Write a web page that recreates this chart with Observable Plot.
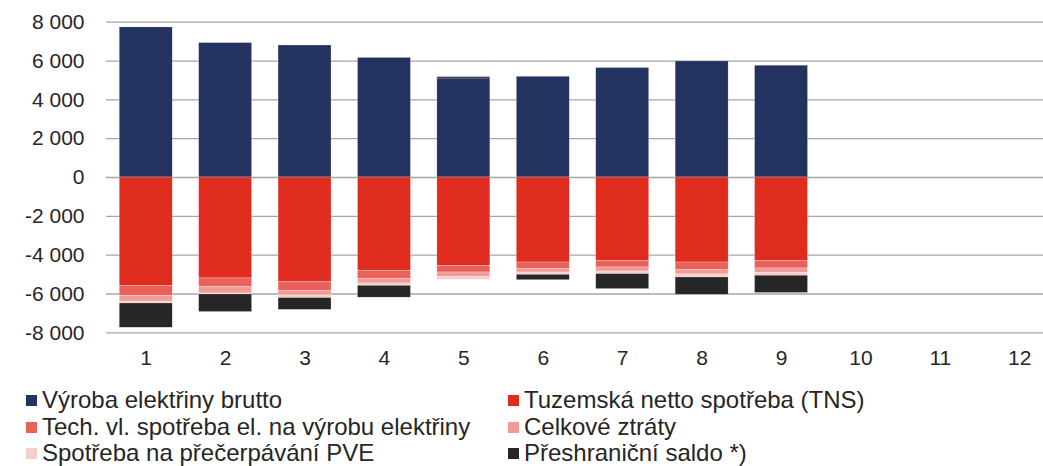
<!DOCTYPE html>
<html>
<head>
<meta charset="utf-8">
<script src="https://cdn.jsdelivr.net/npm/d3@7"></script>
<script src="https://cdn.jsdelivr.net/npm/@observablehq/plot@0.6"></script>
<style>
  html, body { margin: 0; padding: 0; background: #fff; }
  body { width: 1043px; height: 466px; position: relative; overflow: hidden; font-family: "Liberation Sans", Arial, sans-serif; }
  #chart { position: absolute; left: 0; top: 0; }
  .leg { position: absolute; font-size: 24px; color: #262626; white-space: nowrap; line-height: 24px; }
  .sw { position: absolute; width: 11px; height: 11px; }
</style>
</head>
<body>
<div id="chart"></div>
<div id="legend"></div>
<script>
// Data (GWh), months 1..12
const months = ["1","2","3","4","5","6","7","8","9","10","11","12"];
const seriesNames = [
  "Výroba elektřiny brutto",
  "Tuzemská netto spotřeba (TNS)",
  "Tech. vl. spotřeba el. na výrobu elektřiny",
  "Celkové ztráty",
  "Spotřeba na přečerpávání PVE",
  "Přeshraniční saldo *)"
];
const seriesColors = ["#24325f", "#e02b1f", "#e9615b", "#f19b96", "#f8cdca", "#262626"];
const vyroba   = [7730, 6925, 6800, 6160, 5100, 5190, 5640, 5980, 5760];
const tns      = [-5580, -5200, -5370, -4820, -4550, -4380, -4290, -4380, -4290];
const techSp   = [-515, -430, -465, -410, -345, -340, -345, -390, -395];
const ztraty   = [-295, -345, -240, -230, -220, -175, -205, -225, -235];
const pve      = [-100, -50, -135, -120, -155, -120, -135, -155, -140];
const saldo    = [-1250, -905, -610, -610, 70, -275, -775, -890, -890];
const yTicks   = [-8000, -6000, -4000, -2000, 0, 2000, 4000, 6000, 8000];

const seriesValues = [vyroba, tns, techSp, ztraty, pve, saldo];
const data = [];
seriesNames.forEach((name, si) => {
  seriesValues[si].forEach((v, i) => data.push({month: months[i], series: name, value: v}));
});

const fmt = n => (n < 0 ? "-" : "") + String(Math.abs(n)).replace(/\B(?=(\d{3})+(?!\d))/g, " ");

const W = 1043, H = 380;
const yTop = 21.7, yBot = 332.3;

const chart = Plot.plot({
  width: W,
  height: H,
  marginLeft: 106,
  marginRight: 0,
  marginTop: yTop,
  marginBottom: H - yBot,
  style: { fontFamily: "'Liberation Sans', Arial, sans-serif", fontSize: "21px", color: "#262626", background: "#fff" },
  x: { domain: months, range: [106, 1059], paddingInner: 0.333, paddingOuter: 0.1665, round: false, label: null },
  y: { domain: [-8000, 8000], range: [yBot, yTop], label: null },
  color: { domain: seriesNames, range: seriesColors },
  marks: [
    Plot.ruleY(yTicks, { stroke: "#a6a6a6", strokeWidth: 1.3 }),
    Plot.barY(data, Plot.stackY({ order: null }, {
      x: "month", y: "value", fill: "series", stroke: "#fff", strokeWidth: 0.4, strokeOpacity: 0.6
    })),
    Plot.axisY({ ticks: yTicks, tickFormat: fmt, tickSize: 0, tickPadding: 22, fontSize: 21, fill: "#262626", label: null }),
    Plot.axisX({ tickSize: 0, tickPadding: 17, fontSize: 21, fill: "#262626", label: null })
  ]
});
document.getElementById("chart").appendChild(chart);

// Legend (HTML, below the SVG)
const legend = document.getElementById("legend");
const rowsY = [400, 427, 453];
const colX = [26, 508];
seriesNames.forEach((name, i) => {
  const col = i % 2, row = Math.floor(i / 2);
  const sw = document.createElement("div");
  sw.className = "sw";
  sw.style.left = colX[col] + "px";
  sw.style.top = (rowsY[row] - 5.5) + "px";
  sw.style.background = seriesColors[i];
  legend.appendChild(sw);
  const t = document.createElement("div");
  t.className = "leg";
  t.style.left = (colX[col] + 16) + "px";
  t.style.top = (rowsY[row] - 12) + "px";
  t.textContent = name;
  legend.appendChild(t);
});
</script>
</body>
</html>
